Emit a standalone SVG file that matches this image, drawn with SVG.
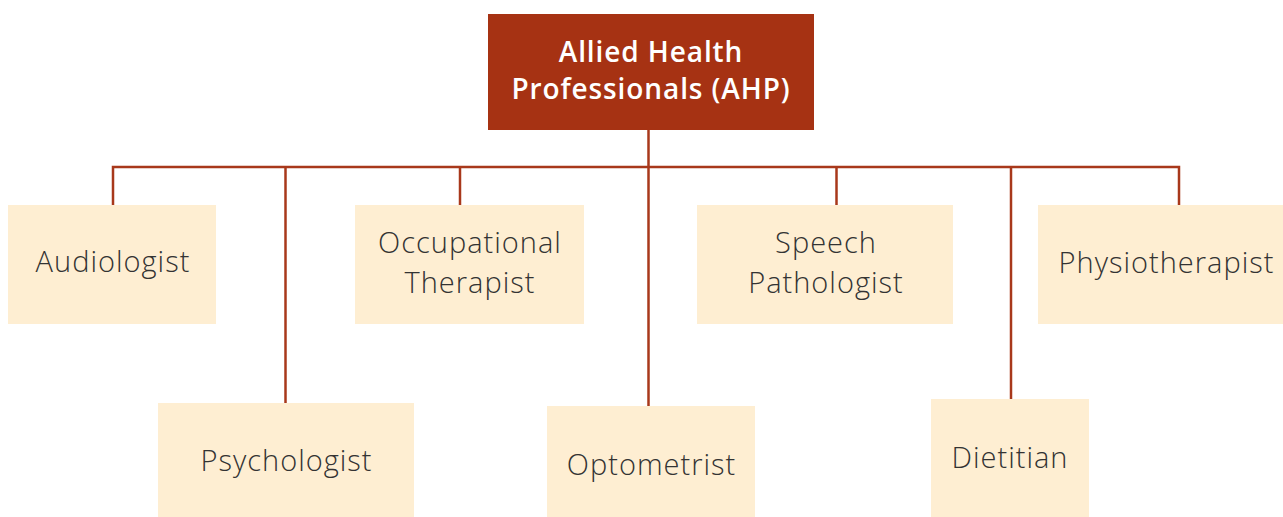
<svg xmlns="http://www.w3.org/2000/svg" width="1283" height="517" viewBox="0 0 1283 517">
  <style>
    .root rect { fill: #a63213; }
    .root text { fill: #ffffff; font-family: "Open Sans", "Liberation Sans", sans-serif; font-weight: 600; font-size: 28px; letter-spacing: 0.9px; text-anchor: middle; }
    .leaf rect { fill: #feeed2; }
    .leaf text { fill: #333333; font-family: "Open Sans", "Liberation Sans", sans-serif; font-weight: 300; font-size: 29px; letter-spacing: 1px; text-anchor: middle; }
    .links path { fill: none; stroke: #a8381b; stroke-width: 2.5; }
  </style>
  <rect width="1283" height="517" fill="#ffffff"/>

  <!-- connectors -->
  <g id="connectors" class="links">
    <path d="M648.5 130 V167"/>
    <path d="M113 205 V167 H1179 V205"/>
    <path d="M285.5 167 V403"/>
    <path d="M460 167 V205"/>
    <path d="M648.5 167 V406"/>
    <path d="M836.5 167 V205"/>
    <path d="M1011 167 V399"/>
  </g>

  <!-- root -->
  <g id="node-ahp" class="root">
    <rect x="488" y="14" width="326" height="116"/>
    <text x="651" y="62">Allied Health</text>
    <text x="651" y="99">Professionals (AHP)</text>
  </g>

  <!-- first row -->
  <g id="node-audiologist" class="leaf">
    <rect x="8" y="205" width="208" height="119"/>
    <text x="113" y="272">Audiologist</text>
  </g>
  <g id="node-occupational-therapist" class="leaf">
    <rect x="355" y="205" width="229" height="119"/>
    <text x="470" y="253">Occupational</text>
    <text x="470" y="293">Therapist</text>
  </g>
  <g id="node-speech-pathologist" class="leaf">
    <rect x="697" y="205" width="256" height="119"/>
    <text x="826" y="253">Speech</text>
    <text x="826" y="293">Pathologist</text>
  </g>
  <g id="node-physiotherapist" class="leaf">
    <rect x="1038" y="205" width="245" height="119"/>
    <text x="1166.5" y="272.5">Physiotherapist</text>
  </g>

  <!-- second row -->
  <g id="node-psychologist" class="leaf">
    <rect x="158" y="403" width="256" height="114"/>
    <text x="286.5" y="470.5">Psychologist</text>
  </g>
  <g id="node-optometrist" class="leaf">
    <rect x="547" y="406" width="208" height="111"/>
    <text x="651.5" y="475">Optometrist</text>
  </g>
  <g id="node-dietitian" class="leaf">
    <rect x="931" y="399" width="158" height="118"/>
    <text x="1010" y="468">Dietitian</text>
  </g>
</svg>
